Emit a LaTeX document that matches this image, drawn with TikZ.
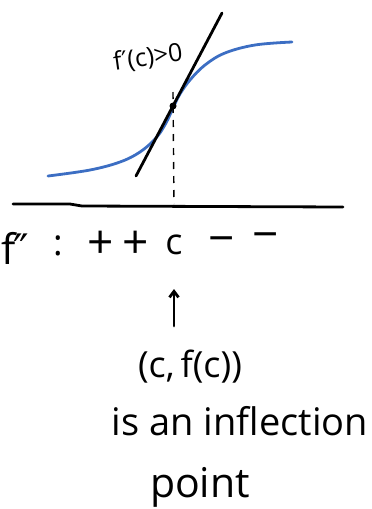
\documentclass[tikz,border=0pt]{standalone}
\usepackage{fontspec}
\setmainfont{Open Sans}
\newfontfamily\symf{DejaVu Sans}
\usetikzlibrary{arrows.meta}
\definecolor{curveblue}{RGB}{60,110,195}
\newcommand{\prm}{{\symf ′}}
\begin{document}
\begin{tikzpicture}[x=1pt,y=-1pt,
  ink/.style={line width=2.8pt,line cap=round,line join=round},
  lbl/.style={inner sep=0pt,font=\fontsize{36}{40}\selectfont},
  sgn/.style={inner sep=0pt,font=\fontsize{46}{50}\selectfont},
  big/.style={inner sep=0pt,font=\fontsize{37}{42}\selectfont}]
\useasboundingbox (0,0) rectangle (372,509);
% curve
\draw[ink,curveblue] plot[smooth,tension=0.6] coordinates
  {(48,176) (90,170) (120,162) (140,152) (156,138) (166,123) (173,108) (180,94) (190,80) (205,65) (225,53) (255,45) (292,42)};
% tangent
\coordinate (t1) at (136,176);
\coordinate (t2) at (222,13);
\draw[ink] (t1) -- (t2);
% point
\node[circle,fill=black,inner sep=0pt,minimum size=7pt] (P) at (173,106) {};
% axis
\coordinate (a1) at (13,204);
\coordinate (a2) at (343,207);
\draw[ink] (a1) -- (70,204) -- (82,206) -- (a2);
% dashed drop
\coordinate (foot) at (174,204);
\draw[line width=1.4pt,dash pattern=on 7pt off 7pt] ([yshift=14pt]P.center) -- (foot);
% derivative label
\node[inner sep=0pt,font=\fontsize{25}{28}\selectfont,rotate=8] (d1) at (148,58) {f\prm(c)>0};
% sign chart
\node[inner sep=0pt,font=\fontsize{42}{46}\selectfont] (fpp) at (15,248) {f\kern-2pt\prm\kern-4pt\prm};
\node[lbl] (colon) at (58,246) {:};
\node[sgn] (p1) at (101,245) {+};
\node[sgn] (p2) at (136,245) {+};
\node[lbl] (cc) at (174,245) {c};
\node[sgn] (m1) at (222,246) {−};
\node[sgn] (m2) at (266,242) {−};
% arrow
\coordinate (ab) at (174,326);
\draw[ink,-{Straight Barb[length=6pt,width=9pt]}] (ab) -- (cc.south |- 0,289);
% text
\node[big,font=\fontsize{36}{40}\selectfont] (pt) at (190,367) {(c,\,f(c))};
\node[big,font=\fontsize{38}{42}\selectfont] (l1) at (240,421) {is an inflection};
\node[big,font=\fontsize{41}{46}\selectfont] (l2) at (200,487) {point};
\end{tikzpicture}
\end{document}
